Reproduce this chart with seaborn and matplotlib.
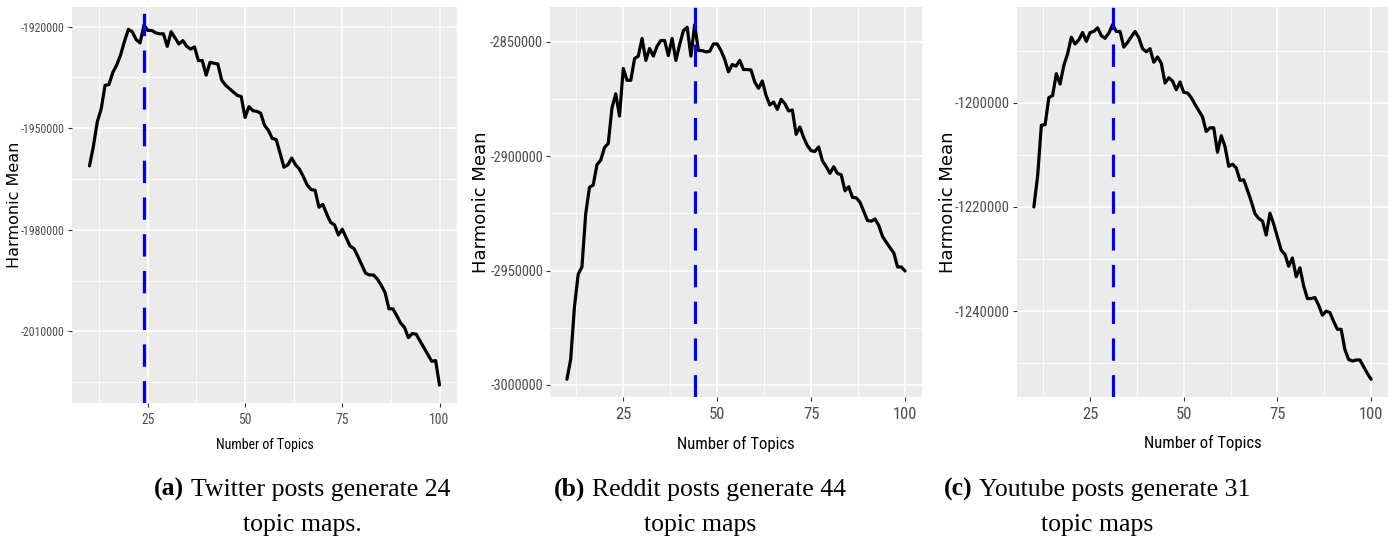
import numpy as np
import pandas as pd
import matplotlib
matplotlib.use("Agg")
import matplotlib.pyplot as plt
import seaborn as sns
from matplotlib import font_manager as fm
from matplotlib.font_manager import FontProperties
from matplotlib.ticker import AutoMinorLocator, FuncFormatter, FixedLocator

# ---------------- data ----------------
topics = list(range(10, 101))

twitter = [-1961100, -1955300, -1948100, -1944300, -1937300, -1937100, -1933500, -1931300, -1928300, -1924300,
           -1920800, -1921500, -1923800, -1924800, -1919500, -1921100, -1921100, -1921800, -1922100, -1922100,
           -1925800, -1921500, -1923300, -1925100, -1924100, -1925800, -1926600, -1926000, -1930000, -1930000,
           -1934300, -1930500, -1930800, -1931000, -1935800, -1937300, -1938300, -1939300, -1940300, -1940600,
           -1946800, -1943600, -1944800, -1945000, -1945500, -1949100, -1950600, -1953000, -1953300, -1957300,
           -1961500, -1960800, -1958800, -1960800, -1962100, -1964300, -1966800, -1968100, -1968300, -1973300,
           -1972500, -1975300, -1977800, -1978500, -1981500, -1979800, -1982300, -1984800, -1985500, -1987800,
           -1990300, -1992800, -1993300, -1993300, -1994500, -1996300, -1998500, -2003300, -2003300, -2005300,
           -2007500, -2008800, -2011800, -2010600, -2010800, -2012800, -2014800, -2016800, -2018800, -2018600,
           -2025800]

reddit = [-2997500, -2988800, -2965900, -2951600, -2948400, -2925200, -2913600, -2912600, -2903700, -2901700,
          -2896200, -2894400, -2878800, -2872700, -2882400, -2861600, -2866800, -2866800, -2857300, -2856200,
          -2848500, -2858100, -2852900, -2856200, -2851900, -2849400, -2849400, -2856000, -2848500, -2858100,
          -2851200, -2845100, -2843600, -2856200, -2842500, -2853800, -2853800, -2854400, -2854100, -2850900,
          -2850900, -2853800, -2857700, -2863100, -2859900, -2860600, -2858100, -2862100, -2862100, -2862300,
          -2867600, -2870300, -2867100, -2873400, -2877600, -2876300, -2879500, -2875100, -2877000, -2880200,
          -2879800, -2890400, -2887200, -2891800, -2895400, -2897600, -2897900, -2895900, -2902000, -2904500,
          -2907500, -2904600, -2907500, -2908100, -2915100, -2913300, -2918000, -2918200, -2920100, -2924100,
          -2928100, -2928400, -2927400, -2930300, -2935100, -2937600, -2940000, -2942300, -2948400, -2948400,
          -2950200]

youtube = [-1220000, -1214100, -1204300, -1204200, -1199000, -1198600, -1194400, -1196400, -1192800, -1190600,
           -1187400, -1188700, -1187900, -1186500, -1188200, -1186500, -1186300, -1185600, -1187100, -1187600,
           -1186600, -1185000, -1186300, -1186300, -1189300, -1188400, -1187300, -1186300, -1187500, -1189600,
           -1190200, -1189600, -1192200, -1191200, -1192400, -1196200, -1195200, -1195800, -1197500, -1196000,
           -1198000, -1198100, -1199000, -1200300, -1201500, -1202700, -1205500, -1204800, -1204800, -1209500,
           -1206300, -1208400, -1212200, -1211800, -1212500, -1214900, -1214800, -1216800, -1218900, -1221300,
           -1222200, -1222700, -1225400, -1221200, -1223300, -1225800, -1228300, -1229100, -1231400, -1229800,
           -1233400, -1231700, -1235200, -1237600, -1237600, -1237400, -1238900, -1240800, -1240000, -1240300,
           -1242000, -1243500, -1243500, -1247400, -1249300, -1249600, -1249400, -1249400, -1250700, -1252000,
           -1253100]

best_topics = [24, 44, 31]
x_ticks = [25, 50, 75, 100]
twitter_yticks = [-1920000, -1950000, -1980000, -2010000]
reddit_yticks = [-2850000, -2900000, -2950000, -3000000]
youtube_yticks = [-1200000, -1220000, -1240000]

x_label = "Number of Topics"
y_label = "Harmonic Mean"
caption_tags = ["(a)", "(b)", "(c)"]
caption_line1 = ["Twitter posts generate 24", "Reddit posts generate 44", "Youtube posts generate 31"]
caption_line2 = ["topic maps.", "topic maps", "topic maps"]

# ---------------- style ----------------
sns.set_theme(style="darkgrid")


def find_narrow():
    prefs = ["Liberation Sans Narrow", "Roboto Condensed", "Arial Narrow", "Open Sans Condensed",
             "Noto Sans Condensed", "DejaVu Sans Condensed"]
    normal_w = (400, "normal", "regular", "book")
    fl = fm.fontManager.ttflist
    for name in prefs:
        for f in fl:
            if f.name == name and f.weight in normal_w and f.style == "normal":
                return FontProperties(fname=f.fname), 1.0
    for base in ["Roboto", "DejaVu Sans", "Noto Sans", "Open Sans", "Liberation Sans"]:
        for f in fl:
            st = str(f.stretch)
            if f.name == base and f.style == "normal" and f.weight in normal_w and \
                    ("condensed" in st or st in ("75", "87.5", "62.5")):
                return FontProperties(fname=f.fname), 0.95
    return FontProperties(family="Liberation Sans"), 0.84


narrow_fp, narrow_scale = find_narrow()
serif = "Liberation Serif"

W, H = 1397, 539
fig = plt.figure(figsize=(W / 100, H / 100), dpi=100)
fig.patch.set_facecolor("white")


def add_ax(l, t, r, b):
    return fig.add_axes([l / W, 1 - b / H, (r - l) / W, (b - t) / H])


panels = [
    dict(box=(72, 7, 457, 403), vals=twitter, yt=twitter_yticks, ytick_fs=8.6, xtick_fs=9.8, lab_fs=10.0,
         ylab_fs=11.5, ylab_x=-0.150, xlab_y=-0.106),
    dict(box=(550, 7, 922, 397), vals=reddit, yt=reddit_yticks, ytick_fs=10.4, xtick_fs=12.0, lab_fs=12.0,
         ylab_fs=13.0, ylab_x=-0.186, xlab_y=-0.121),
    dict(box=(1017, 7, 1388, 397), vals=youtube, yt=youtube_yticks, ytick_fs=10.5, xtick_fs=12.0, lab_fs=12.0,
         ylab_fs=13.0, ylab_x=-0.187, xlab_y=-0.118),
]


def narrow_props(size):
    fp = narrow_fp.copy()
    fp.set_size(size * narrow_scale)
    return fp


for p, k in zip(panels, best_topics):
    ax = add_ax(*p["box"])
    ax.set_facecolor("#EBEBEB")
    df = pd.DataFrame({"topics": topics, "hm": p["vals"]})
    sns.lineplot(data=df, x="topics", y="hm", color="black", linewidth=2.3, ax=ax,
                 solid_joinstyle="round", solid_capstyle="round", zorder=3)
    ax.axvline(k, color="#0000EE", linewidth=2.3, linestyle=(0, (7, 4.5)), zorder=4)

    lo, hi = min(p["vals"]), max(p["vals"])
    r = hi - lo
    ax.set_ylim(lo - 0.05 * r, hi + 0.05 * r)
    ax.set_xlim(10 - 4.5, 100 + 4.5)

    ax.xaxis.set_major_locator(FixedLocator(x_ticks))
    ax.yaxis.set_major_locator(FixedLocator(p["yt"]))
    ax.xaxis.set_minor_locator(AutoMinorLocator(2))
    ax.yaxis.set_minor_locator(AutoMinorLocator(2))
    ax.yaxis.set_major_formatter(FuncFormatter(lambda v, pos: f"{int(round(v))}"))
    ax.xaxis.set_major_formatter(FuncFormatter(lambda v, pos: f"{int(round(v))}"))

    ax.grid(which="major", color="white", linewidth=1.2)
    ax.grid(which="minor", color="white", linewidth=0.6)
    for s in ax.spines.values():
        s.set_visible(False)

    ax.tick_params(which="major", length=3, width=0.8, color="#333333",
                   labelcolor="#4D4D4D", bottom=True, left=True)
    ax.tick_params(axis="x", which="major", pad=4)
    ax.tick_params(axis="y", which="major", pad=2)
    ax.tick_params(which="minor", length=0)
    for lab in ax.get_xticklabels():
        lab.set_fontproperties(narrow_props(p["xtick_fs"]))
    for lab in ax.get_yticklabels():
        lab.set_fontproperties(narrow_props(p["ytick_fs"]))

    ax.set_xlabel(x_label, fontproperties=narrow_props(p["lab_fs"]), color="black")
    ax.set_ylabel(y_label, fontfamily="DejaVu Sans", fontsize=p["ylab_fs"], color="black")
    ax.xaxis.label.set_va("center")
    ax.yaxis.label.set_va("center")
    ax.xaxis.set_label_coords(0.5, p["xlab_y"])
    ax.yaxis.set_label_coords(p["ylab_x"], 0.5)

# ---------------- captions ----------------
renderer = fig.canvas.get_renderer()
cap_fs = 18.5
centers = [302, 700, 1097]
base1, base2 = 496, 531


def text_width(s, weight="normal"):
    t = fig.text(0, 0, s, fontfamily=serif, fontsize=cap_fs, fontweight=weight)
    w = t.get_window_extent(renderer).width
    t.remove()
    return w


space_w = text_width("a a") - text_width("aa")
for cx, tag, l1, l2 in zip(centers, caption_tags, caption_line1, caption_line2):
    w_tag = text_width(tag, "bold")
    w_l1 = text_width(l1)
    total = w_tag + space_w + w_l1
    x0 = cx - total / 2
    fig.text(x0 / W, 1 - base1 / H, tag, fontfamily=serif, fontsize=cap_fs, fontweight="bold",
             va="baseline", ha="left", color="black")
    fig.text((x0 + w_tag + space_w) / W, 1 - base1 / H, l1, fontfamily=serif, fontsize=cap_fs,
             va="baseline", ha="left", color="black")
    fig.text(cx / W, 1 - base2 / H, l2, fontfamily=serif, fontsize=cap_fs,
             va="baseline", ha="center", color="black")

fig.savefig("out.png", dpi=100, facecolor="white")
